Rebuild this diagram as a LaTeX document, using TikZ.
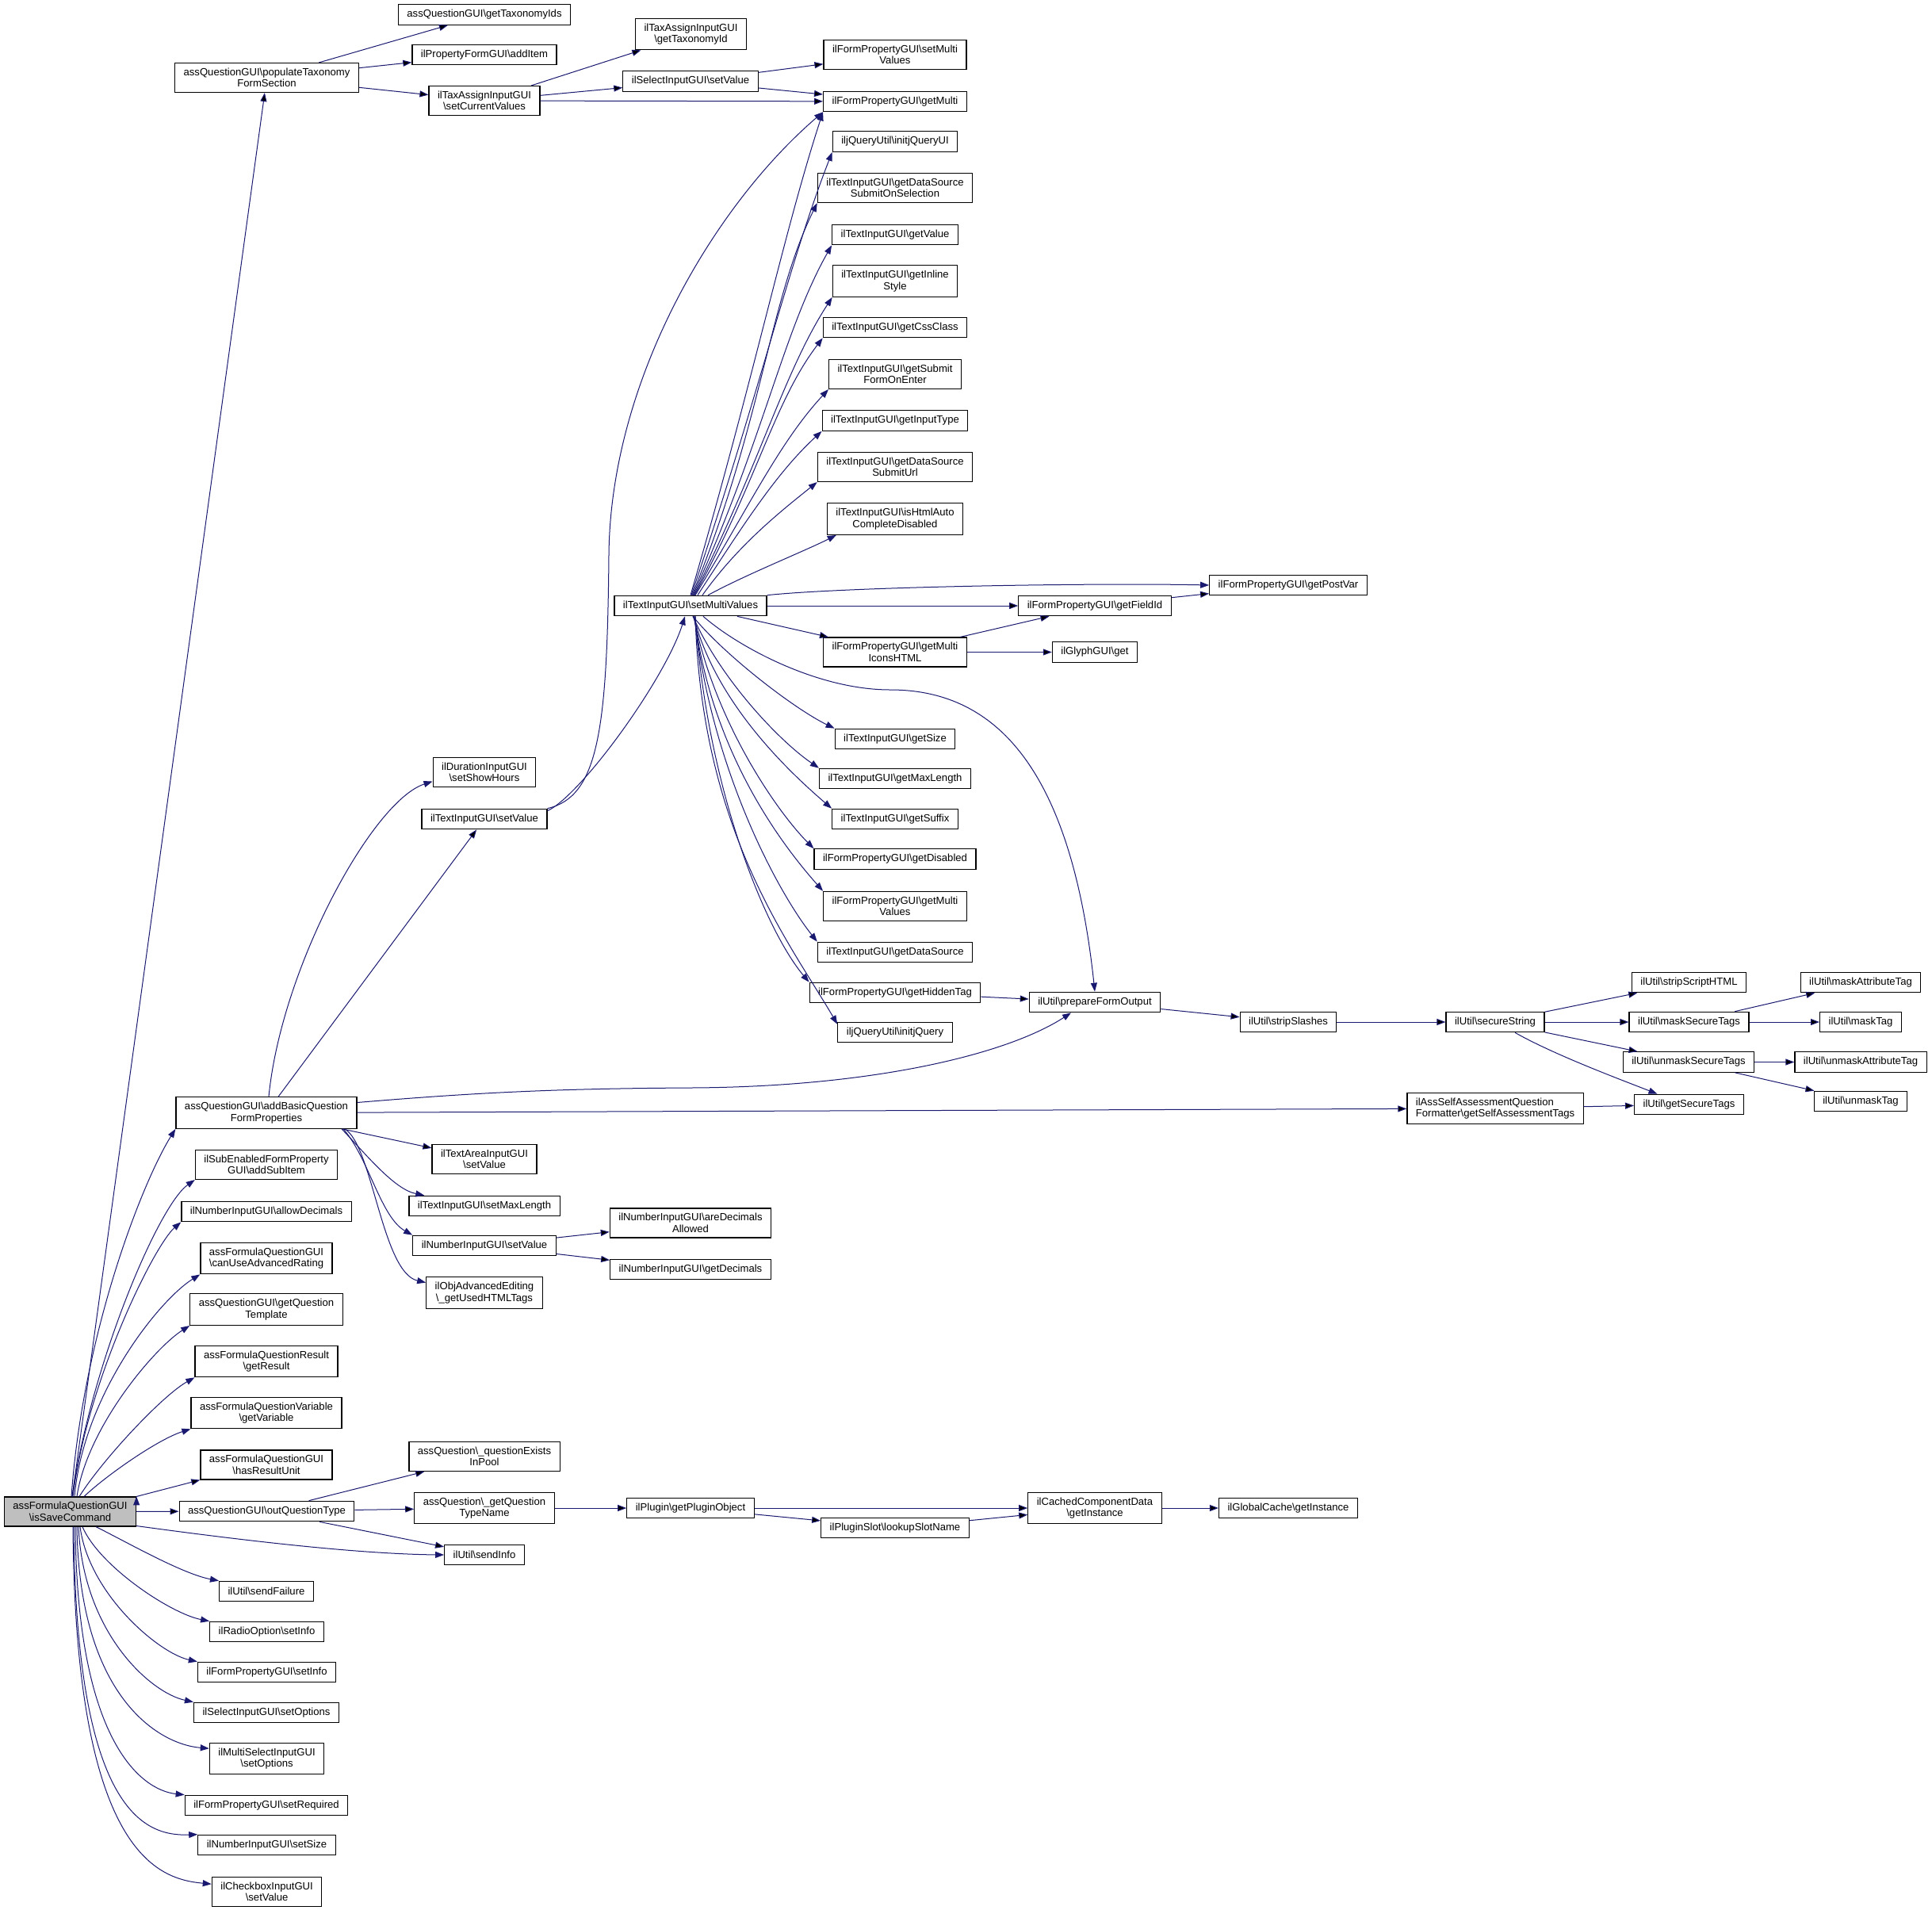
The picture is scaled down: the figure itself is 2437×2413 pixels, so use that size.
\documentclass[tikz,border=0pt]{standalone}
\usepackage{fontspec}
\setmainfont{Liberation Sans}
\usepackage{tikz}
\usetikzlibrary{arrows.meta}
\definecolor{edgeblue}{HTML}{191970}
\definecolor{rootgray}{HTML}{BFBFBF}
\newcommand{\bsl}{\textbackslash}

\begin{document}
\begin{tikzpicture}[x=1pt,y=1pt]
	\tikzset{fnbox/.style={draw=black,fill=white,line width=1.2pt,inner xsep=11pt,inner ysep=6.4pt,
			minimum height=25.5pt,align=center,font=\fontsize{13.1}{14.5}\selectfont},
		fnroot/.style={fnbox,fill=rootgray},
		call/.style={->,>={Triangle[length=11pt,width=8pt]},draw=edgeblue,line width=1pt}}
	\useasboundingbox (0,0) rectangle (2437,-2413);

	%% caller
	\node[fnroot] (I) at (88.5,-1906.5) {assFormulaQuestionGUI\\\bsl isSaveCommand};

	%% first level
	\node[fnbox] (pop) at (336.5,-98) {assQuestionGUI\bsl populateTaxonomy\\FormSection};
	\node[fnbox] (addBasic) at (336,-1403.5) {assQuestionGUI\bsl addBasicQuestion\\FormProperties};
	\node[fnbox] (subItem) at (336,-1469) {ilSubEnabledFormProperty\\GUI\bsl addSubItem};
	\node[fnbox] (allowDec) at (336,-1528) {ilNumberInputGUI\bsl allowDecimals};
	\node[fnbox] (canAdv) at (336,-1587) {assFormulaQuestionGUI\\\bsl canUseAdvancedRating};
	\node[fnbox] (tmpl) at (336,-1651.6) {assQuestionGUI\bsl getQuestion\\Template};
	\node[fnbox] (result) at (336,-1717) {assFormulaQuestionResult\\\bsl getResult};
	\node[fnbox] (variable) at (336,-1782) {assFormulaQuestionVariable\\\bsl getVariable};
	\node[fnbox] (hasUnit) at (336,-1847.5) {assFormulaQuestionGUI\\\bsl hasResultUnit};
	\node[fnbox] (outType) at (336.5,-1906) {assQuestionGUI\bsl outQuestionType};
	\node[fnbox] (sendFail) at (336,-2007) {ilUtil\bsl sendFailure};
	\node[fnbox] (radioInfo) at (336.5,-2058) {ilRadioOption\bsl setInfo};
	\node[fnbox] (fpInfo) at (336.5,-2109) {ilFormPropertyGUI\bsl setInfo};
	\node[fnbox] (selOpt) at (336,-2160) {ilSelectInputGUI\bsl setOptions};
	\node[fnbox] (multiOpt) at (336.5,-2218) {ilMultiSelectInputGUI\\\bsl setOptions};
	\node[fnbox] (required) at (336,-2277) {ilFormPropertyGUI\bsl setRequired};
	\node[fnbox] (numSize) at (336.5,-2327) {ilNumberInputGUI\bsl setSize};
	\node[fnbox] (chkSet) at (336.6,-2386) {ilCheckboxInputGUI\\\bsl setValue};

	%% second level
	\node[fnbox] (gtids) at (611,-18.5) {assQuestionGUI\bsl getTaxonomyIds};
	\node[fnbox] (addItem) at (611,-69) {ilPropertyFormGUI\bsl addItem};
	\node[fnbox] (setCur) at (611,-127) {ilTaxAssignInputGUI\\\bsl setCurrentValues};
	\node[fnbox] (showHours) at (611,-974) {ilDurationInputGUI\\\bsl setShowHours};
	\node[fnbox] (txtSet) at (611,-1033) {ilTextInputGUI\bsl setValue};
	\node[fnbox] (areaSet) at (611,-1462) {ilTextAreaInputGUI\\\bsl setValue};
	\node[fnbox] (setMax) at (611,-1521) {ilTextInputGUI\bsl setMaxLength};
	\node[fnbox] (numSet) at (611,-1571) {ilNumberInputGUI\bsl setValue};
	\node[fnbox] (htmlTags) at (611,-1630.6) {ilObjAdvancedEditing\\\bsl\_getUsedHTMLTags};
	\node[fnbox] (existsPool) at (611,-1837) {assQuestion\bsl\_questionExists\\InPool};
	\node[fnbox] (typeName) at (611,-1902) {assQuestion\bsl\_getQuestion\\TypeName};
	\node[fnbox] (sendInfo) at (611,-1961) {ilUtil\bsl sendInfo};

	%% third level
	\node[fnbox] (gtid) at (871.5,-43) {ilTaxAssignInputGUI\\\bsl getTaxonomyId};
	\node[fnbox] (selSet) at (871,-102.5) {ilSelectInputGUI\bsl setValue};
	\node[fnbox] (smv) at (871,-764) {ilTextInputGUI\bsl setMultiValues};
	\node[fnbox] (areDec) at (871,-1542.5) {ilNumberInputGUI\bsl areDecimals\\Allowed};
	\node[fnbox] (getDec) at (871,-1601) {ilNumberInputGUI\bsl getDecimals};
	\node[fnbox] (plugin) at (871,-1902) {ilPlugin\bsl getPluginObject};

	%% fourth level
	\node[fnbox] (fpSetMV) at (1129,-69) {ilFormPropertyGUI\bsl setMulti\\Values};
	\node[fnbox] (getMulti) at (1129,-128) {ilFormPropertyGUI\bsl getMulti};
	\node[fnbox] (jqUI) at (1129,-178.6) {iljQueryUtil\bsl initjQueryUI};
	\node[fnbox] (dsSOS) at (1129,-237) {ilTextInputGUI\bsl getDataSource\\SubmitOnSelection};
	\node[fnbox] (getValue) at (1129,-296) {ilTextInputGUI\bsl getValue};
	\node[fnbox] (inlStyle) at (1129,-354.6) {ilTextInputGUI\bsl getInline\\Style};
	\node[fnbox] (cssClass) at (1129,-413) {ilTextInputGUI\bsl getCssClass};
	\node[fnbox] (submitFOE) at (1129,-472) {ilTextInputGUI\bsl getSubmit\\FormOnEnter};
	\node[fnbox] (inputType) at (1129,-530.5) {ilTextInputGUI\bsl getInputType};
	\node[fnbox] (dsUrl) at (1129,-589) {ilTextInputGUI\bsl getDataSource\\SubmitUrl};
	\node[fnbox] (htmlAuto) at (1129,-654.6) {ilTextInputGUI\bsl isHtmlAuto\\CompleteDisabled};
	\node[fnbox] (iconsHTML) at (1129,-822.5) {ilFormPropertyGUI\bsl getMulti\\IconsHTML};
	\node[fnbox] (getSize) at (1129,-932) {ilTextInputGUI\bsl getSize};
	\node[fnbox] (maxLen) at (1129,-982) {ilTextInputGUI\bsl getMaxLength};
	\node[fnbox] (suffix) at (1129,-1033) {ilTextInputGUI\bsl getSuffix};
	\node[fnbox] (disabled) at (1129,-1083.5) {ilFormPropertyGUI\bsl getDisabled};
	\node[fnbox] (fpGetMV) at (1129,-1142.8) {ilFormPropertyGUI\bsl getMulti\\Values};
	\node[fnbox] (dataSrc) at (1129,-1201) {ilTextInputGUI\bsl getDataSource};
	\node[fnbox] (hidden) at (1129,-1252) {ilFormPropertyGUI\bsl getHiddenTag};
	\node[fnbox] (jq) at (1129,-1302) {iljQueryUtil\bsl initjQuery};
	\node[fnbox] (slot) at (1129,-1927) {ilPluginSlot\bsl lookupSlotName};

	%% further levels
	\node[fnbox] (fieldId) at (1381,-764) {ilFormPropertyGUI\bsl getFieldId};
	\node[fnbox] (glyph) at (1381,-822.5) {ilGlyphGUI\bsl get};
	\node[fnbox] (prep) at (1381,-1264) {ilUtil\bsl prepareFormOutput};
	\node[fnbox] (cached) at (1381,-1902) {ilCachedComponentData\\\bsl getInstance};
	\node[fnbox] (postVar) at (1625,-738) {ilFormPropertyGUI\bsl getPostVar};
	\node[fnbox] (strip) at (1625,-1289) {ilUtil\bsl stripSlashes};
	\node[fnbox] (gcache) at (1625,-1902) {ilGlobalCache\bsl getInstance};
	\node[fnbox] (secure) at (1886,-1289) {ilUtil\bsl secureString};
	\node[fnbox,align=left] (selfAss) at (1886,-1398) {ilAssSelfAssessmentQuestion\\Formatter\bsl getSelfAssessmentTags};
	\node[fnbox] (scriptHTML) at (2130.5,-1239) {ilUtil\bsl stripScriptHTML};
	\node[fnbox] (maskSec) at (2130.5,-1289) {ilUtil\bsl maskSecureTags};
	\node[fnbox] (unmaskSec) at (2130,-1339.5) {ilUtil\bsl unmaskSecureTags};
	\node[fnbox] (secTags) at (2130.5,-1393) {ilUtil\bsl getSecureTags};
	\node[fnbox] (maskAttr) at (2347,-1239) {ilUtil\bsl maskAttributeTag};
	\node[fnbox] (maskTag) at (2347,-1289) {ilUtil\bsl maskTag};
	\node[fnbox] (unmaskAttr) at (2347,-1339.5) {ilUtil\bsl unmaskAttributeTag};
	\node[fnbox] (unmaskTag) at (2347,-1389) {ilUtil\bsl unmaskTag};

	%% straight calls
	\path[call]
		(I) edge (pop)
		(I) edge (outType)
		(I.north east) edge (hasUnit.south west)
		(pop) edge (gtids)
		(pop) edge (addItem)
		(pop) edge (setCur)
		(setCur) edge (gtid)
		(setCur) edge (selSet)
		(setCur) edge (getMulti)
		(selSet) edge (fpSetMV)
		(selSet) edge (getMulti)
		(addBasic) edge (txtSet)
		(addBasic) edge (selfAss)
		(addBasic) edge (areaSet)
		(numSet) edge (areDec)
		(numSet) edge (getDec)
		(outType) edge (existsPool)
		(outType) edge (typeName)
		(outType) edge (sendInfo)
		(typeName) edge (plugin)
		(plugin) edge (cached)
		(plugin) edge (slot)
		(slot) edge (cached)
		(cached) edge (gcache)
		(smv) edge (fieldId)
		(smv) edge (iconsHTML)
		(iconsHTML) edge (fieldId)
		(iconsHTML) edge (glyph)
		(fieldId) edge (postVar)
		(hidden) edge (prep)
		(prep) edge (strip)
		(strip) edge (secure)
		(secure) edge (scriptHTML)
		(secure) edge (maskSec)
		(secure) edge (unmaskSec)
		(maskSec) edge (maskAttr)
		(maskSec) edge (maskTag)
		(unmaskSec) edge (unmaskAttr)
		(unmaskSec) edge (unmaskTag)
		(selfAss) edge (secTags);

	%% caller fan, upwards
	\draw[call] ([xshift=1.5pt]I.north) .. controls (105,-1680) and (180,-1490) .. (addBasic.south west);
	\draw[call] ([xshift=2.5pt]I.north) .. controls (115,-1720) and (200,-1520) .. (subItem.south west);
	\draw[call] ([xshift=3.5pt]I.north) .. controls (110,-1740) and (195,-1570) .. (allowDec.south west);
	\draw[call] ([xshift=5.5pt]I.north) .. controls (105,-1760) and (200,-1640) .. (canAdv.south west);
	\draw[call] ([xshift=8.5pt]I.north) .. controls (110,-1800) and (195,-1700) .. (tmpl.south west);
	\draw[call] ([xshift=11.5pt]I.north) .. controls (130,-1840) and (205,-1760) .. (result.south west);
	\draw[call] ([xshift=17.5pt]I.north) .. controls (135,-1860) and (200,-1815) .. (variable.south west);

	%% caller fan, downwards
	\draw[call] ([yshift=-18pt]I.east) .. controls (300,-1942) and (450,-1960) .. (sendInfo.west);
	\draw[call] ([xshift=32.5pt]I.south) .. controls (160,-1945) and (230,-1985) .. (sendFail.north west);
	\draw[call] ([xshift=15.5pt]I.south) .. controls (125,-1975) and (215,-2035) .. (radioInfo.north west);
	\draw[call] ([xshift=12.5pt]I.south) .. controls (112,-2010) and (200,-2085) .. (fpInfo.north west);
	\draw[call] ([xshift=10.5pt]I.south) .. controls (105,-2060) and (190,-2135) .. (selOpt.north west);
	\draw[call] ([xshift=8.5pt]I.south) .. controls (100,-2140) and (200,-2200) .. (multiOpt.170);
	\draw[call] ([xshift=6.5pt]I.south) .. controls (97,-2200) and (180,-2258) .. (required.north west);
	\draw[call] ([xshift=4.5pt]I.south) .. controls (96,-2290) and (185,-2316) .. (numSize.north west);
	\draw[call] ([xshift=3.5pt]I.south) .. controls (95,-2340) and (200,-2370) .. (chkSet.172);

	%% addBasicQuestionFormProperties
	\draw[call] ([xshift=3pt]addBasic.north) .. controls (355,-1220) and (470,-1010) .. (showHours.190);
	\draw[call] ([yshift=13pt]addBasic.east) .. controls (600,-1378) and (700,-1373) .. (870,-1372)
		.. controls (1100,-1371) and (1270,-1330) .. (prep.204);
	\draw[call] ([xshift=95pt]addBasic.south) .. controls (461,-1455) and (497,-1500) .. (setMax.170);
	\draw[call] ([xshift=97pt]addBasic.south) .. controls (465,-1460) and (480,-1535) .. (numSet.north west);
	\draw[call] ([xshift=99pt]addBasic.south) .. controls (470,-1445) and (482,-1605) .. (htmlTags.170);

	%% ilTextInputGUI setValue
	\draw[call] (txtSet.north east) .. controls (755,-1005) and (766,-920) .. (768,-700)
		.. controls (770,-480) and (900,-260) .. (getMulti.south west);
	\draw[call] ([yshift=-3pt]txtSet.north east) .. controls (733,-1003) and (839,-856.5) .. ([xshift=-7pt]smv.south);

	%% setMultiValues, upwards
	\draw[call] (smv.north) .. controls (951,-476.5) and (988.5,-293.4) .. (getMulti.south west);
	\draw[call] ([xshift=1pt]smv.north) .. controls (957,-499.5) and (995,-331.5) .. (jqUI.south west);
	\draw[call] ([xshift=2pt]smv.north) .. controls (963,-529) and (969.6,-380.6) .. (dsSOS.south west);
	\draw[call] ([xshift=3pt]smv.north) .. controls (964,-552.4) and (987,-419.6) .. (getValue.south west);
	\draw[call] ([xshift=4pt]smv.north) .. controls (960,-582) and (988.7,-469) .. (inlStyle.south west);
	\draw[call] ([xshift=5pt]smv.north) .. controls (956,-605) and (976,-507.4) .. (cssClass.south west);
	\draw[call] ([xshift=6pt]smv.north) .. controls (947,-634.7) and (984,-557) .. (submitFOE.south west);
	\draw[call] ([xshift=9pt]smv.north) .. controls (940,-657.7) and (981,-595) .. (inputType.south west);
	\draw[call] ([xshift=15pt]smv.north) .. controls (931,-687.4) and (984.6,-645) .. (dsUrl.south west);
	\draw[call] ([xshift=22pt]smv.north) .. controls (940,-725) and (1015,-695) .. ([xshift=12pt]htmlAuto.south west);
	\draw[call] (smv.north east) .. controls (1070,-740) and (1380,-735) .. (postVar.west);

	%% setMultiValues, downwards
	\draw[call] ([xshift=3pt]smv.south) .. controls (914,-826.5) and (1002,-894) .. (getSize.north west);
	\draw[call] ([xshift=3pt]smv.south) .. controls (909,-856.5) and (982.7,-934.4) .. (maxLen.north west);
	\draw[call] ([xshift=4pt]smv.south) .. controls (903,-890) and (1003,-980) .. (suffix.north west);
	\draw[call] ([xshift=4pt]smv.south) .. controls (900,-906.5) and (977.7,-1021) .. (disabled.north west);
	\draw[call] ([xshift=5pt]smv.south) .. controls (897,-950) and (988.5,-1068) .. (fpGetMV.north west);
	\draw[call] ([xshift=5pt]smv.south) .. controls (896,-966.5) and (980,-1123.7) .. (dataSrc.north west);
	\draw[call] ([xshift=6pt]smv.south) .. controls (892,-996.5) and (966,-1174) .. (hidden.north west);
	\draw[call] ([xshift=6pt]smv.south) .. controls (885,-1050) and (996.4,-1189) .. (jq.172);
	\draw[call] ([xshift=16pt]smv.south) .. controls (930,-815) and (1030,-870) .. (1123,-870)
		.. controls (1250,-870) and (1350,-960) .. (prep.north);

	%% secureString
	\draw[call] ([xshift=25pt]secure.south) .. controls (1960,-1330) and (2040,-1360) .. ([xshift=-40pt]secTags.north);
\end{tikzpicture}
\end{document}
